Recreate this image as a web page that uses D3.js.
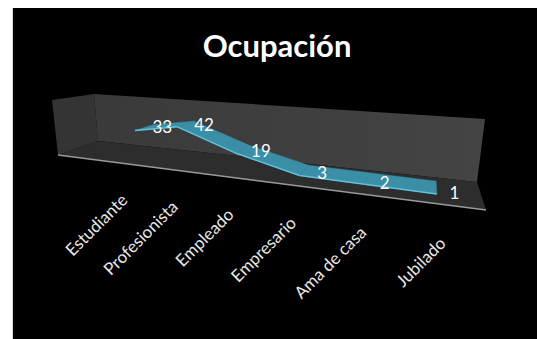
<!DOCTYPE html>
<html>
<head>
<meta charset="utf-8">
<script src="https://cdn.jsdelivr.net/npm/d3@7"></script>
<style>
  html, body { margin: 0; padding: 0; background: #ffffff; }
  svg { display: block; }
</style>
</head>
<body>
<svg id="chart" width="537" height="339"></svg>
<script>
// Occupation counts
const categories = ["Estudiante", "Profesionista", "Empleado", "Empresario", "Ama de casa", "Jubilado"];
const values = [33, 42, 19, 3, 2, 1];
const chartTitle = "Ocupación";

const svg = d3.select("#chart");
const W = 537, H = 339;

// black plot area inside a thin white margin
svg.append("rect").attr("x", 13).attr("y", 8).attr("width", W - 13).attr("height", H - 8).attr("fill", "#000");
svg.append("line").attr("x1", 12.5).attr("x2", 12.5).attr("y1", 8).attr("y2", H)
  .attr("stroke", "#d8d8d8").attr("stroke-width", 1);

// unit square -> quadrilateral projective map
function quadMap(p00, p10, p11, p01) {
  const [x0, y0] = p00, [x1, y1] = p10, [x2, y2] = p11, [x3, y3] = p01;
  const dx1 = x1 - x2, dx2 = x3 - x2, dx3 = x0 - x1 + x2 - x3;
  const dy1 = y1 - y2, dy2 = y3 - y2, dy3 = y0 - y1 + y2 - y3;
  const den = dx1 * dy2 - dy1 * dx2;
  const g = (dx3 * dy2 - dy3 * dx2) / den;
  const h = (dx1 * dy3 - dy1 * dx3) / den;
  const a = x1 - x0 + g * x1, b = x3 - x0 + h * x3, c = x0;
  const d = y1 - y0 + g * y1, e = y3 - y0 + h * y3, f = y0;
  return (u, w) => {
    const z = g * u + h * w + 1;
    return [(a * u + b * w + c) / z, (d * u + e * w + f) / z];
  };
}

// floor (value 0) and ceiling (value max) planes of the 3D box
const floorMap = quadMap([98, 141], [477, 182], [486, 210], [58, 155]);
const topMap = quadMap([94, 94], [485, 119], [496, 136], [52, 100]);

const x = d3.scalePoint().domain(categories).range([0.235, 0.92]);
const y = d3.scaleLinear().domain([0, 65]).range([0, 1]);

function P(u, v, w) {
  const f = floorMap(u, w), t = topMap(u, w), k = y(v);
  return [f[0] + (t[0] - f[0]) * k, f[1] + (t[1] - f[1]) * k];
}
const poly = pts => "M" + pts.map(p => p.join(",")).join("L") + "Z";

// walls and floor
const g3 = svg.append("g");
const wallGrad = svg.append("defs").append("linearGradient").attr("id", "wallGrad")
  .attr("x1", 0).attr("y1", 0).attr("x2", 1).attr("y2", 0);
wallGrad.append("stop").attr("offset", 0).attr("stop-color", "#3a3a3a");
wallGrad.append("stop").attr("offset", 1).attr("stop-color", "#444444");

g3.append("path").attr("d", poly([P(0, 0, 0), P(0, 0, 1), P(0, 65, 1), P(0, 65, 0)]))
  .attr("fill", "#343434");
g3.append("path").attr("d", poly([P(0, 0, 0), P(1, 0, 0), P(1, 65, 0), P(0, 65, 0)]))
  .attr("fill", "url(#wallGrad)");
g3.append("path").attr("d", poly([P(0, 0, 0), P(1, 0, 0), P(1, 0, 1), P(0, 0, 1)]))
  .attr("fill", "#2d2d2d");
g3.append("line")
  .attr("x1", P(0, 0, 1)[0]).attr("y1", P(0, 0, 1)[1])
  .attr("x2", P(1, 0, 1)[0]).attr("y2", P(1, 0, 1)[1])
  .attr("stroke", "#9a9a9a").attr("stroke-width", 1.6);

// ribbon line
const wA = 0.2, wB = 0.7;
const ribbon = svg.append("g");
for (let i = 0; i < values.length - 1; i++) {
  const u0 = x(categories[i]), u1 = x(categories[i + 1]);
  const v0 = values[i], v1 = values[i + 1];
  ribbon.append("path")
    .attr("d", poly([P(u0, v0, wA), P(u1, v1, wA), P(u1, v1, wB), P(u0, v0, wB)]))
    .attr("fill", "#3a8ea6").attr("stroke", "#3a8ea6").attr("stroke-width", 0.5);
  const a = P(u0, v0, wB), b = P(u1, v1, wB);
  ribbon.append("line").attr("x1", a[0]).attr("y1", a[1]).attr("x2", b[0]).attr("y2", b[1])
    .attr("stroke", "#62c2dc").attr("stroke-width", 1.5);
}

// data labels, placed just right of each point
svg.append("g").selectAll("text").data(values).join("text")
  .attr("x", (d, i) => P(x(categories[i]), d, 0.45)[0] + 18)
  .attr("y", (d, i) => P(x(categories[i]), d, 0.45)[1] - 1 + 1.2 * i)
  .attr("text-anchor", "middle").attr("dominant-baseline", "central")
  .attr("font-family", "Lato, sans-serif").attr("font-size", 17)
  .attr("fill", "#ffffff").text(d => d);

// category labels under the front edge of the floor
svg.append("g").selectAll("text").data(categories).join("text")
  .attr("transform", d => {
    const p = P(x(d), 0, 1.3);
    return `translate(${p[0] + 9},${p[1] + 31}) rotate(-45)`;
  })
  .attr("text-anchor", "end")
  .attr("font-family", "Lato, sans-serif").attr("font-size", 17)
  .attr("fill", "#e8e8e8").text(d => d);

// title
svg.append("text").attr("x", 277).attr("y", 57).attr("text-anchor", "middle")
  .attr("font-family", "Lato, sans-serif").attr("font-weight", "bold").attr("font-size", 31)
  .attr("fill", "#ffffff").text(chartTitle);
</script>
</body>
</html>
